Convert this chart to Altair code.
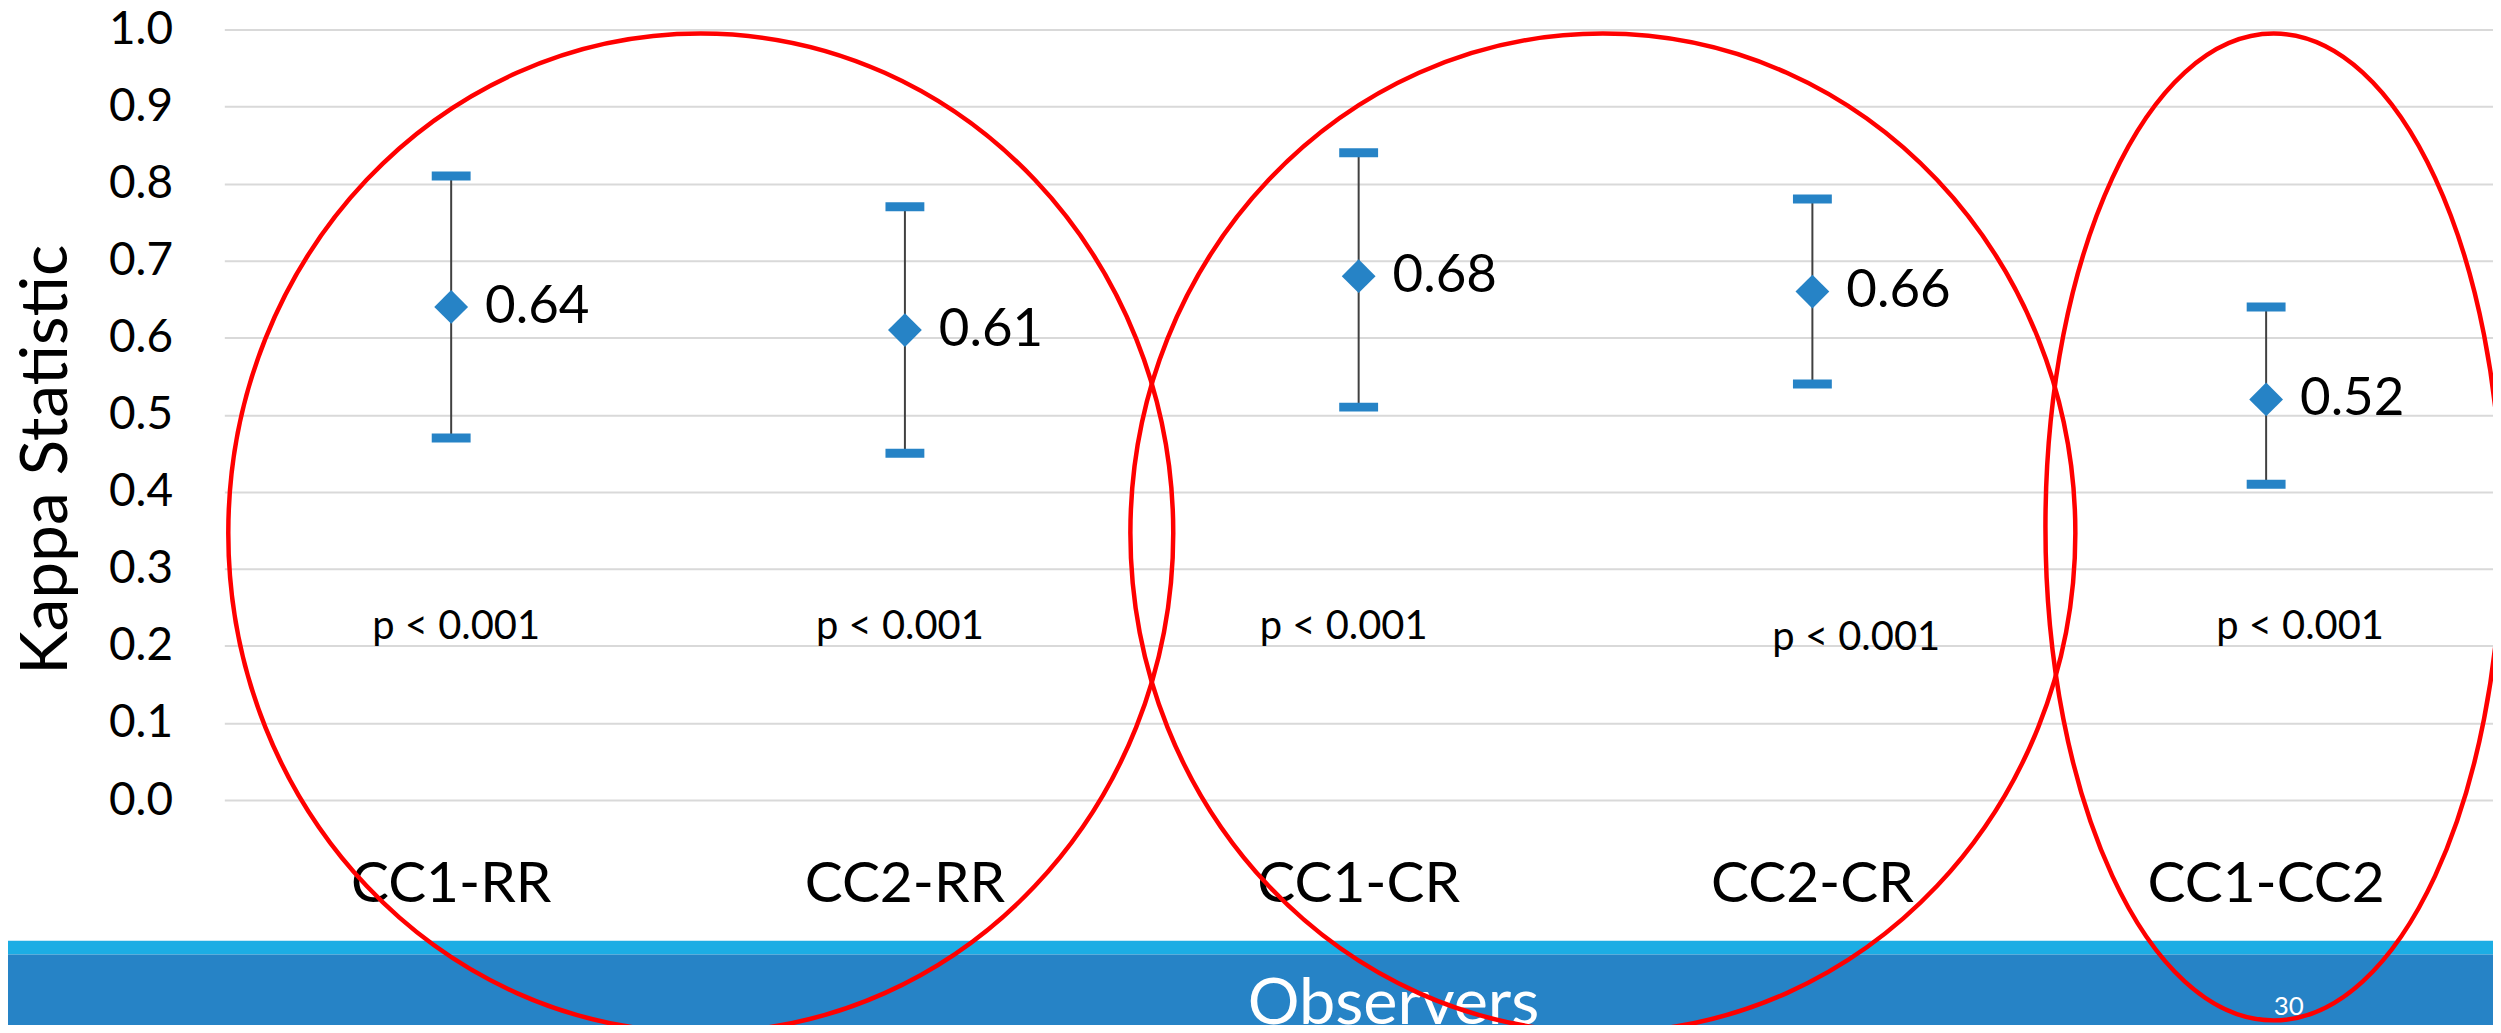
import altair as alt
import pandas as pd

# ---- data ----
categories = ["CC1-RR", "CC2-RR", "CC1-CR", "CC2-CR", "CC1-CC2"]
kappa = [0.64, 0.61, 0.68, 0.66, 0.52]
ci_low = [0.47, 0.45, 0.51, 0.54, 0.41]
ci_high = [0.81, 0.77, 0.84, 0.78, 0.64]
p_text = ["p < 0.001", "p < 0.001", "p < 0.001", "p < 0.001", "p < 0.001"]
p_y = [0.225, 0.225, 0.225, 0.21, 0.225]
y_ticks = [0.0, 0.1, 0.2, 0.3, 0.4, 0.5, 0.6, 0.7, 0.8, 0.9, 1.0]

df = pd.DataFrame({
    "cat": categories,
    "kappa": kappa,
    "lo": ci_low,
    "hi": ci_high,
    "p": p_text,
    "py": p_y,
})
df["label"] = [f"{v:.2f}" for v in kappa]

FONT = "Lato"
BLUE = "#2683C6"
LIGHT = "#1CADE4"

x_enc = alt.X(
    "cat:N", sort=categories,
    axis=alt.Axis(title=None, labelFont=FONT, labelFontSize=57, labelColor="black",
                  labelPadding=102, labelBaseline="alphabetic", labelAngle=0, labelLimit=0,
                  ticks=False, tickSize=0, domain=False, grid=False),
)
y_scale = alt.Scale(domain=[0, 1], nice=False, zero=True)
y_axis = alt.Axis(values=y_ticks, format=".1f", title="Kappa Statistic",
                  labelFont=FONT, labelFontSize=46, labelColor="black", labelPadding=52,
                  ticks=False, tickSize=0, domain=False, grid=True,
                  gridColor="#D9D9D9", gridWidth=2,
                  titleFont=FONT, titleFontSize=66, titleFontWeight="normal",
                  titleColor="black", titleAngle=270, titleX=-158, titleY=431,
                  titleBaseline="alphabetic", titleAlign="center", titleLimit=0)


def Y(field):
    return alt.Y(field, type="quantitative", scale=y_scale, axis=y_axis)


base = alt.Chart(df)

whisk = base.mark_rule(color="#404040", strokeWidth=2).encode(
    x=x_enc, y=Y("lo"), y2="hi")
cap_lo = base.mark_tick(color=BLUE, thickness=9, size=39, opacity=1).encode(x=x_enc, y=Y("lo"))
cap_hi = base.mark_tick(color=BLUE, thickness=9, size=39, opacity=1).encode(x=x_enc, y=Y("hi"))
pts = base.mark_point(shape="diamond", filled=True, size=1150, color=BLUE, opacity=1).encode(
    x=x_enc, y=Y("kappa"))
vals = base.mark_text(align="left", baseline="middle", dx=34, font=FONT, fontSize=53,
                      color="black").encode(x=x_enc, y=Y("kappa"), text="label")

p_offsets = [5, -5, -15, 44, 34]
p_layers = []
for c, off in zip(categories, p_offsets):
    p_layers.append(
        base.transform_filter(alt.datum.cat == c)
        .mark_text(align="center", baseline="middle", dx=off, font=FONT, fontSize=40,
                   color="black")
        .encode(x=x_enc, y=Y("py"), text="p")
    )

one = alt.Chart(pd.DataFrame({"d": [0]}))

band_light = one.mark_rect(color=LIGHT).encode(
    x=alt.value(-217), x2=alt.value(2276), y=alt.value(914), y2=alt.value(928))
band_dark = one.mark_rect(color=BLUE).encode(
    x=alt.value(-217), x2=alt.value(2276), y=alt.value(928), y2=alt.value(1000))
obs = one.mark_text(align="center", baseline="alphabetic", font=FONT, fontSize=65,
                    color="white").encode(x=alt.value(1173), y=alt.value(998),
                                          text=alt.value("Observers"))
page = one.mark_text(align="center", baseline="alphabetic", font=FONT, fontSize=26,
                     color="white").encode(x=alt.value(2071), y=alt.value(989),
                                           text=alt.value("30"))


def ellipse(cx, cy, a, b):
    path = f"M{-a},0A{a},{b},0,1,0,{a},0A{a},{b},0,1,0,{-a},0Z"
    return one.mark_point(shape=path, filled=False, stroke="#FF0000", strokeWidth=4.5,
                          size=4, opacity=1).encode(x=alt.value(cx), y=alt.value(cy))


ellipses = [
    ellipse(478, 505, 474, 501),
    ellipse(1383, 505, 474, 501),
    ellipse(2056, 499, 229, 495),
]

chart = alt.layer(
    whisk, cap_lo, cap_hi, pts, vals, *p_layers,
    band_light, band_dark, obs, page, *ellipses
).properties(
    width=2276, height=773,
    autosize=alt.AutoSizeParams(type="none"),
    padding={"left": 217, "top": 20, "right": 0, "bottom": 224},
    background="white",
).configure_view(stroke=None)

chart.save("out.html", embed_options={"renderer": "svg", "actions": False})
